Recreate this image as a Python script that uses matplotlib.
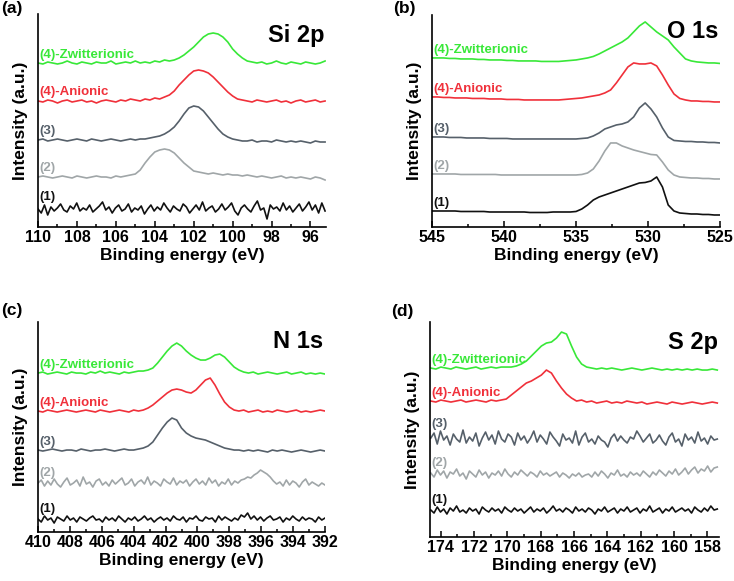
"""XPS survey of the four surfaces: Si 2p, O 1s, N 1s and S 2p."""

import numpy as np
import matplotlib
matplotlib.use("Agg")
import matplotlib.pyplot as plt
from matplotlib.ticker import MultipleLocator

plt.rcParams["font.family"] = ["Liberation Sans", "DejaVu Sans"]
plt.rcParams["font.weight"] = "bold"

LABELS = ["(4)-Zwitterionic", "(4)-Anionic", "(3)", "(2)", "(1)"]
COLORS = ["#38e838", "#f0303a", "#56606a", "#a0a6a8", "#111111"]

# ---- Si 2p (intensity in arbitrary units, offset per sample) ----
SI_RANGE = (110.0, 95.25)
SI_ZWIT = [164, 163, 165, 164, 163, 164, 166, 164, 163, 165, 164, 163, 165, 164, 164,
           166, 163, 164, 165, 164, 166, 164, 165, 164, 166, 165, 167, 166,
           167, 169, 172, 176, 180, 185, 190, 193, 194, 193, 190, 185, 178, 173, 169, 166, 165,
           164, 165, 163, 164, 166, 164, 163, 165, 164, 163, 165, 164, 163, 164, 166]
SI_ANION = [126, 125, 127, 126, 124, 126, 127, 125, 126, 127, 125, 126, 124, 126, 127,
            126, 125, 127, 126, 128, 127, 126, 128, 127, 129, 128, 130,
            132, 136, 142, 147, 152, 156, 157, 156, 154, 150, 145, 140, 135, 131, 128, 127,
            126, 125, 127, 126, 125, 126, 127, 125, 126, 124, 126, 127, 125, 126, 127, 125, 126]
SI_S3 = [87, 88, 86, 87, 88, 87, 86, 87, 88, 87, 86, 88, 87, 86, 87, 88, 87, 86, 87, 88,
         87, 88, 88, 89, 90, 91, 93,
         96, 100, 106, 113, 119, 121, 120, 116, 110, 104, 98, 93, 90, 88,
         87, 86, 86, 87, 85, 86, 86, 85, 87, 86, 85, 86, 85, 86, 85, 84, 86, 85, 85]
SI_S2 = [50, 51, 50, 49, 50, 51, 50, 49, 51, 50, 49, 50, 51, 50, 50, 49, 51, 50, 51, 52, 53,
         57, 64, 70, 75, 77, 78, 77, 74, 69, 64, 60, 56, 55, 54,
         53, 54, 53, 52, 53, 52, 52, 51, 52, 51, 50, 51, 50, 49, 50, 51, 49, 50, 49, 50,
         49, 48, 50, 49, 47]
SI_S1 = [18, 14, 22, 12, 20, 16, 19, 23, 17, 15, 21, 18, 24, 16, 19, 17, 22, 15, 18, 21,
         25, 17, 20, 14, 19, 22, 16, 18, 23, 15, 19, 17, 21, 13, 18, 22, 16, 20, 17, 24,
         19, 15, 21, 18, 16, 23, 20, 14, 18, 22, 17, 25, 16, 19, 21, 15, 18, 23, 17, 20,
         24, 16, 12, 19, 22, 18, 15, 21, 26, 17, 19, 8, 22, 18, 20, 16, 24, 17, 21, 15,
         19, 23, 16, 20, 25, 17, 22, 14, 24, 16]

# ---- O 1s ----
O_RANGE = (545.0, 525.0)
O_ZWIT = [169, 169, 169, 168.5, 168.5, 168, 168, 168, 167.5, 167.5,
          167, 167, 167, 166.5, 166.5, 166, 166, 166, 166, 165.5,
          165.5, 165.5, 165.5, 166, 166.5, 167, 168, 169, 170.5, 173,
          176, 179, 182, 185, 189, 195, 201, 205, 200, 195,
          191, 187, 180, 174, 168, 166, 165, 164.5, 164, 164, 163.5]
O_ANION = [130, 130, 129.5, 129.5, 129, 129, 129, 128.5, 128.5, 128.5,
           128, 128, 128, 127.5, 127.5, 127.5, 127, 127, 127, 127,
           127, 127, 127, 127.5, 128, 128.5, 129, 130, 131, 132,
           134, 137, 144, 152, 160, 164, 163, 163, 164, 161,
           152, 142, 133, 128.5, 127, 126, 126, 125.5, 125.5, 125, 125]
O_S3 = [90, 90, 90, 89.5, 89.5, 89.5, 89, 89, 89, 89,
        88.5, 88.5, 88.5, 88.5, 88, 88, 88, 88, 88, 88,
        88, 88, 88, 88, 88, 88, 88.5, 89, 91, 94,
        98, 100, 102, 103, 105, 110, 119, 124, 118, 110,
        99, 90, 86.5, 86, 85.5, 85.5, 85, 85, 84.5, 84.5, 84]
O_S2 = [53, 53, 53, 53, 53, 52.5, 52.5, 52.5, 52.5, 52.5,
        52.5, 52.5, 52, 52, 52, 52, 52, 52, 52, 52,
        52, 52, 52, 52, 52, 52, 52.5, 54, 58, 66,
        76, 84, 84, 81, 79, 77, 75.5, 74, 72.5, 72,
        65, 57, 52, 50, 49.5, 49, 49, 48.5, 48.5, 48, 48]
O_S1 = [16, 16, 16, 16, 16, 15.5, 15.5, 15.5, 15.5, 15.5,
        15, 15, 15, 15, 15, 15, 15, 14.5, 14.5, 14.5,
        14.5, 15, 15, 15, 15, 15.5, 18, 22, 27, 30,
        32, 34, 36, 38, 40, 42, 44, 44.5, 46, 50,
        40, 22, 16, 14, 13.5, 13, 13, 12.5, 12.5, 12, 12]

# ---- N 1s ----
N_RANGE = (410.0, 392.0)
N_ZWIT = [159, 160, 158, 159, 160, 159, 158, 160, 159, 159, 158, 160, 159, 161, 159,
          160, 159, 158, 160, 159, 160, 161,
          161, 162, 164, 169, 175, 181, 186, 189, 186, 181, 177, 174, 172, 172, 174, 177,
          178, 175, 170, 165, 162, 160,
          159, 160, 158, 159, 160, 159, 158, 159, 160, 158, 159, 160, 158, 159, 158, 159, 158]
N_ANION = [121, 120, 122, 121, 120, 121, 122, 121, 120, 121, 122, 121, 120, 122, 121,
           120, 121, 122, 121, 120, 122, 121,
           122, 124, 127, 131, 135, 139, 142, 143, 142, 140, 139, 142, 147, 152, 154, 147,
           138, 130, 125, 122,
           121, 122, 120, 121, 122, 120, 121, 120, 122, 121, 120, 121, 122, 120, 121, 120,
           121, 122, 121]
N_S3 = [82, 81, 82, 83, 82, 81, 82, 82, 81, 83, 82, 81, 82, 82, 83, 82, 81, 82, 83, 82,
        82, 83, 84,
        86, 90, 97, 104, 110, 114, 112, 104, 99, 96, 94, 93, 92, 90, 88, 86, 84, 83,
        82, 82, 81, 82, 81, 82, 81, 80, 82, 81, 82, 81, 80, 81, 82, 81, 80, 81, 82, 81]
N_S2 = [49, 52, 46, 51, 47, 53, 48, 45, 50, 54, 47, 49, 52, 46, 55, 48, 50, 45, 51, 53,
        47, 50, 46, 52, 48, 51, 54, 47, 49, 53, 46, 50, 52, 48, 55, 47, 51, 49, 46, 53,
        50, 48, 54, 47, 51, 49, 52, 46, 50, 53, 48, 51, 47, 54, 49, 52, 46, 50, 48, 53,
        47, 51, 49, 52, 53, 55, 54, 57, 59, 62, 60, 58, 55, 51, 48, 50, 46, 52, 47, 51,
        49, 45, 50, 53, 47, 50, 48, 46, 49, 47]
N_S1 = [13, 10, 16, 12, 14, 9, 15, 13, 11, 16, 12, 14, 10, 15, 13, 11, 14, 16, 12, 13,
        10, 15, 12, 14, 11, 16, 13, 10, 14, 12, 15, 11, 13, 16, 12, 14, 10, 13, 15, 12,
        14, 11, 16, 13, 12, 15, 10, 14, 13, 16, 12, 11, 15, 13, 14, 10, 16, 12, 15, 13,
        11, 14, 12, 17, 15, 19, 13, 16, 12, 15, 11, 14, 16, 12, 13, 15, 10, 14, 12, 16,
        13, 11, 15, 12, 14, 13, 10, 15, 12, 14]

# ---- S 2p ----
S_RANGE = (174.6, 157.4)
S_ZWIT = [169, 168, 170, 169, 168, 170, 169, 168, 169, 170, 168, 169, 170, 169, 170,
          170, 170, 171, 173, 176, 181, 186, 191, 194, 195, 199, 205, 203, 191, 180, 173, 170,
          169, 168, 169, 168, 169, 168, 167, 168, 169, 168, 167, 168, 169, 168, 167, 168,
          167, 168, 167, 168, 167, 168, 167, 167, 168, 167]
S_ANION = [136, 135, 137, 136, 135, 136, 137, 135, 136, 137, 136, 135, 137, 136, 137,
           138, 142, 146, 150, 154, 156, 159, 162, 167, 164, 156, 149, 143, 139, 136,
           137, 135, 136, 134, 135, 136, 134, 135, 134, 136, 135, 134, 135, 133, 134,
           135, 134, 133, 135, 134, 133, 134, 135, 134, 133, 134, 135, 134]
S_S3 = [99, 104, 93, 106, 97, 101, 92, 103, 98, 95, 107, 94, 100, 96, 104, 91, 99, 105, 97, 102,
        93, 106, 98, 95, 103, 100, 92, 104, 97, 101, 94, 99, 106, 95, 102, 98, 93, 105, 100, 96,
        91, 103, 97, 99, 94, 106, 92, 100, 104, 95, 98, 93, 101, 97, 95, 90, 99, 103, 96, 101,
        97, 94, 100, 98, 106, 101, 95, 99, 103, 94, 97, 102, 96, 92, 100, 104, 95, 98, 91, 103,
        97, 100, 94, 105, 96, 99, 93, 101, 97, 98]
S_S2 = [64, 60, 67, 62, 66, 59, 65, 63, 68, 61, 64, 58, 66, 63, 60, 67, 62, 65, 59, 64,
        62, 66, 61, 68, 63, 60, 65, 62, 67, 64, 61, 65, 63, 60, 66, 62, 64, 61, 63, 65,
        60, 64, 62, 59, 63, 61, 64, 60, 62, 63, 60, 65, 61, 66, 63, 59, 64, 62, 67, 61,
        63, 60, 65, 62, 64, 61, 66, 63, 60, 65, 62, 67, 64, 61, 66, 63, 68, 62, 65, 69,
        63, 67, 70, 64, 68, 66, 71, 65, 69, 70]
S_S1 = [27, 24, 30, 25, 28, 23, 29, 26, 31, 25, 27, 24, 29, 26, 28, 23, 30, 27, 25, 29,
        26, 28, 24, 30, 27, 25, 29, 26, 28, 24, 27, 30, 25, 28, 26, 29, 24, 27, 31, 26,
        28, 25, 29, 27, 24, 30, 26, 28, 25, 29, 27, 23, 28, 26, 30, 25, 27, 29, 24, 28,
        26, 30, 25, 27, 29, 24, 28, 26, 31, 25, 27, 29, 24, 28, 26, 30, 25, 27, 29, 26,
        28, 24, 30, 27, 25, 29, 26, 31, 27, 28]


def draw_panel(ax, e_range, curves, xlim, major, minor, ytop, title, title_y):
    for values, label, color in zip(curves, LABELS, COLORS):
        energy = np.linspace(e_range[0], e_range[1], len(values))
        ax.plot(energy, values, color=color, lw=1.2)
        # label sits just above the left end of its own trace
        ax.text(0.004, max(values[:5]) + 1.5, label, color=color,
                fontsize=9.5, fontweight="bold", ha="left", va="bottom",
                transform=ax.get_yaxis_transform())
    ax.set_xlim(*xlim)
    ax.set_ylim(0, ytop)
    ax.xaxis.set_major_locator(MultipleLocator(major))
    ax.xaxis.set_minor_locator(MultipleLocator(minor))
    ax.set_yticks([])
    for side in ("top", "right"):
        ax.spines[side].set_visible(False)
    for side in ("left", "bottom"):
        ax.spines[side].set_linewidth(1.2)
    ax.tick_params(axis="x", which="major", direction="in", length=4, width=1.1,
                   labelsize=11.5, pad=2.5)
    ax.tick_params(axis="x", which="minor", direction="in", length=2.5, width=1.1)
    for lab in ax.get_xticklabels():
        lab.set_fontweight("bold")
    ax.set_xlabel("Binding energy (eV)", fontsize=12.5, fontweight="bold", labelpad=2)
    ax.set_ylabel("Intensity (a.u.)", fontsize=12.5, fontweight="bold", labelpad=7)
    ax.text(0.995, title_y, title, transform=ax.transAxes, ha="right", va="top",
            fontsize=17, fontweight="bold")


fig = plt.figure(figsize=(7.34, 5.81), dpi=100)

ax_a = fig.add_axes([0.0518, 0.6093, 0.3924, 0.3666])
draw_panel(ax_a, SI_RANGE, [SI_ZWIT, SI_ANION, SI_S3, SI_S2, SI_S1],
           (110, 95.2), 2, 1, 213, "Si 2p", 0.955)

ax_b = fig.add_axes([0.5886, 0.6093, 0.3924, 0.365])
draw_panel(ax_b, O_RANGE, [O_ZWIT, O_ANION, O_S3, O_S2, O_S1],
           (545, 525), 5, 2.5, 212, "O 1s", 0.975)

ax_c = fig.add_axes([0.0518, 0.0843, 0.391, 0.3614])
draw_panel(ax_c, N_RANGE, [N_ZWIT, N_ANION, N_S3, N_S2, N_S1],
           (410, 392), 2, 1, 210, "N 1s", 0.96)

ax_d = fig.add_axes([0.5858, 0.0757, 0.3937, 0.370])
draw_panel(ax_d, S_RANGE, [S_ZWIT, S_ANION, S_S3, S_S2, S_S1],
           (174.65, 157.3), 2, 1, 215, "S 2p", 0.96)

for x, y, tag in [(0.002, 0.998, "(a)"), (0.536, 0.998, "(b)"),
                  (0.002, 0.479, "(c)"), (0.533, 0.476, "(d)")]:
    fig.text(x, y, tag, ha="left", va="top", fontsize=12.5, fontweight="bold")

fig.savefig("out.png", dpi=100)
